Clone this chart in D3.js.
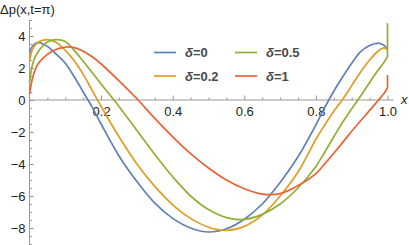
<!DOCTYPE html>
<html>
<head>
<meta charset="utf-8">
<script src="https://cdn.jsdelivr.net/npm/d3@7"></script>
<style>
  body { margin: 0; background: #fff; }
  svg { display: block; }
</style>
</head>
<body>
<svg id="chart" width="409" height="245"></svg>
<script>
// sample positions along x
var X_GRID = [0, 0.01, 0.025, 0.05, 0.075, 0.1, 0.125, 0.15, 0.175, 0.2, 0.25, 0.3, 0.35, 0.4, 0.45, 0.5,
  0.55, 0.6, 0.65, 0.7, 0.75, 0.8, 0.825, 0.85, 0.875, 0.9, 0.925, 0.95, 0.975, 0.99, 1]

// Δp values, one array per δ
var DP_D0 = [2.95, 3.42, 3.59, 3.35, 2.85, 2.3, 1.45, 0.5, -0.45, -1.5, -3.5, -5.1, -6.45, -7.4, -8.0, -8.25,
  -8.05, -7.45, -6.5, -5.15, -3.55, -1.55, -0.45, 0.55, 1.45, 2.3, 3.02, 3.4, 3.56, 3.42, 3.2]
var DP_D02 = [2.4, 3.25, 3.62, 3.77, 3.6, 3.1, 2.45, 1.6, 0.6, -0.4, -2.3, -4.0, -5.4, -6.55, -7.4, -7.95,
  -8.15, -7.9, -7.2, -6.0, -4.5, -2.45, -1.55, -0.7, 0.05, 0.9, 1.75, 2.5, 3.08, 3.26, 3.15]
var DP_D05 = [1.06, 2.35, 3.04, 3.62, 3.77, 3.65, 3.1, 2.42, 1.72, 1.0, -0.4, -1.9, -3.4, -4.8, -6.0, -6.85,
  -7.35, -7.46, -7.15, -6.5, -5.5, -4.15, -3.25, -2.3, -1.38, -0.55, 0.25, 1.1, 1.9, 2.35, 2.7]
var DP_D1 = [0.33, 1.5, 2.3, 2.85, 3.17, 3.31, 3.27, 3.05, 2.7, 2.25, 1.2, 0.08, -1.15, -2.3, -3.35, -4.25,
  -5.0, -5.55, -5.88, -5.85, -5.35, -4.6, -3.98, -3.33, -2.65, -1.95, -1.3, -0.65, 0.0, 0.4, 0.75]

// value the curve jumps to at x = 1 (null = no jump)
var END_JUMP = [null, null, 4.8, 1.56]

var SERIES_LABELS = ["0", "0.2", "0.5", "1"]
var X_MAJOR = [0.2, 0.4, 0.6, 0.8, 1.0]
var Y_MAJOR = [-8, -6, -4, -2, 0, 2, 4]

var colors = ["#5e81b5", "#e19c24", "#8fb032", "#eb6235"]
var allSeries = [DP_D0, DP_D02, DP_D05, DP_D1]

var svg = d3.select("#chart")
var xScale = d3.scaleLinear().domain([0, 1]).range([29.5, 387.5])
var yScale = d3.scaleLinear().domain([5, -9.0625]).range([20, 245])

var axisColor = "#999"
var fontFam = "'Liberation Sans', Arial, sans-serif"

// minor tick positions
var xMinor = d3.range(1, 21).map(function (i) { return i * 0.05 })
  .filter(function (v) { return Math.abs(v * 5 - Math.round(v * 5)) > 1e-6 })
var yMinor = d3.range(-18, 11).map(function (i) { return i * 0.5 })
  .filter(function (v) { return v % 2 != 0 })

// X axis
var gx = svg.append("g").attr("transform", "translate(0," + yScale(0) + ")")
gx.append("line")
  .attr("x1", xScale(0)).attr("x2", xScale(1) + 6)
  .attr("stroke", axisColor).attr("stroke-width", 1)
gx.append("g")
  .call(d3.axisBottom(xScale).tickValues(xMinor).tickSize(-2.5).tickFormat(""))
gx.append("g")
  .call(d3.axisBottom(xScale).tickValues(X_MAJOR).tickSize(-4.5).tickPadding(7).tickFormat(d3.format(".1f")))
gx.selectAll(".domain").remove()
gx.selectAll(".tick line").attr("stroke", axisColor)
gx.selectAll("text").style("font-family", fontFam).style("font-size", "13px").attr("fill", "#222")

// Y axis
var gy = svg.append("g").attr("transform", "translate(" + xScale(0) + ",0)")
gy.append("line")
  .attr("y1", yScale(5)).attr("y2", 245)
  .attr("stroke", axisColor).attr("stroke-width", 1)
gy.append("g")
  .call(d3.axisLeft(yScale).tickValues(yMinor).tickSize(-2.5).tickFormat(""))
gy.append("g")
  .call(d3.axisLeft(yScale).tickValues(Y_MAJOR).tickSize(-4.5).tickPadding(4))
gy.selectAll(".domain").remove()
gy.selectAll(".tick line").attr("stroke", axisColor)
gy.selectAll("text").style("font-family", fontFam).style("font-size", "13px").attr("fill", "#222")

// axis labels
svg.append("text")
  .attr("x", 0).attr("y", 14)
  .style("font-family", fontFam).style("font-size", "13px").attr("fill", "#222")
  .text("Δp(x,t=π)")
svg.append("text")
  .attr("x", 401).attr("y", 104)
  .style("font-family", fontFam).style("font-size", "13px").style("font-style", "italic").attr("fill", "#222")
  .text("x")

// curves
var line = d3.line()
  .x(function (d) { return xScale(d[0]) })
  .y(function (d) { return yScale(d[1]) })
  .curve(d3.curveCatmullRom.alpha(0.5))

for (let i = 0; i < allSeries.length; i++) {
  var data = X_GRID.map(function (x, k) { return [x, allSeries[i][k]] })
  svg.append("path")
    .datum(data)
    .attr("d", line)
    .style("fill", "none")
    .style("stroke", colors[i])
    .style("stroke-width", "1.7")

  if (END_JUMP[i] != null) {
    var last = data[data.length - 1]
    svg.append("line")
      .attr("x1", xScale(last[0])).attr("y1", yScale(last[1]))
      .attr("x2", xScale(last[0])).attr("y2", yScale(END_JUMP[i]))
      .style("stroke", colors[i])
      .style("stroke-width", "1.7")
  }
}

// legend: two columns, two rows
var legendPos = [[154, 52.5], [154, 76], [235, 52.5], [235, 76]]
for (let i = 0; i < SERIES_LABELS.length; i++) {
  var lg = svg.append("g").attr("transform", "translate(" + legendPos[i][0] + "," + legendPos[i][1] + ")")
  lg.append("line")
    .attr("x1", 0).attr("x2", 22).attr("y1", 0).attr("y2", 0)
    .style("stroke", colors[i]).style("stroke-width", "1.7")
  var t = lg.append("text")
    .attr("x", 31).attr("y", 4.5)
    .style("font-family", fontFam).style("font-size", "13px").style("font-weight", "bold")
    .attr("fill", "#4a4a4a")
  t.append("tspan").style("font-style", "italic").text("δ")
  t.append("tspan").text("=" + SERIES_LABELS[i])
}
</script>
</body>
</html>
